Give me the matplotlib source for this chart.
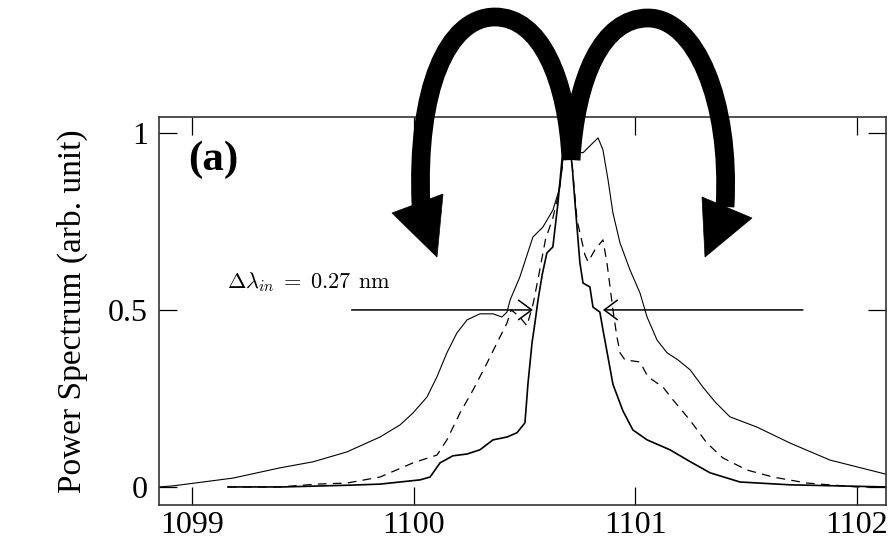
import matplotlib
matplotlib.use("Agg")
import matplotlib.pyplot as plt
from matplotlib.path import Path
from matplotlib.patches import PathPatch, Polygon

FIG_W, FIG_H = 892, 547

# wide spectrum (thin solid line)
wl_wide = [1098.851, 1098.914, 1099.185, 1099.397, 1099.546, 1099.699, 1099.848,
           1099.938, 1099.997, 1100.060, 1100.105, 1100.150, 1100.195, 1100.241,
           1100.299, 1100.358, 1100.398, 1100.421, 1100.435, 1100.479, 1100.538,
           1100.583, 1100.628, 1100.660, 1100.673, 1100.705, 1100.764, 1100.809,
           1100.832, 1100.854, 1100.877, 1100.899, 1100.931, 1100.976, 1101.021,
           1101.053, 1101.098, 1101.143, 1101.192, 1101.247, 1101.305, 1101.360,
           1101.427, 1101.549, 1101.698, 1101.878, 1102.131]
p_wide = [0.000, 0.003, 0.025, 0.054, 0.071, 0.099, 0.141,
          0.175, 0.209, 0.254, 0.311, 0.379, 0.435, 0.472,
          0.489, 0.489, 0.480, 0.494, 0.528, 0.593, 0.706,
          0.734, 0.782, 0.847, 0.924, 0.950, 0.944, 0.972,
          0.986, 0.952, 0.867, 0.774, 0.689, 0.613, 0.548,
          0.480, 0.415, 0.379, 0.359, 0.331, 0.282, 0.240,
          0.198, 0.169, 0.124, 0.076, 0.036]

# intermediate spectrum (dashed)
wl_mid = [1099.162, 1099.397, 1099.564, 1099.699, 1099.848, 1099.997, 1100.105,
          1100.150, 1100.209, 1100.268, 1100.331, 1100.376, 1100.421, 1100.440,
          1100.479, 1100.511, 1100.540, 1100.565, 1100.595, 1100.628, 1100.651,
          1100.682, 1100.705, 1100.737, 1100.773, 1100.787, 1100.818, 1100.854,
          1100.872, 1100.886, 1100.899, 1100.917, 1100.931, 1100.953, 1101.021,
          1101.057, 1101.125, 1101.170, 1101.246, 1101.323, 1101.395, 1101.503,
          1101.621, 1101.774, 1101.999, 1102.131]
p_mid = [0.000, 0.000, 0.008, 0.011, 0.028, 0.068, 0.090,
         0.133, 0.209, 0.274, 0.350, 0.407, 0.463, 0.500,
         0.480, 0.455, 0.520, 0.600, 0.700, 0.760, 0.820,
         0.952, 0.980, 0.754, 0.655, 0.636, 0.670, 0.698,
         0.633, 0.565, 0.500, 0.424, 0.379, 0.359, 0.353,
         0.311, 0.282, 0.246, 0.189, 0.124, 0.082, 0.048,
         0.028, 0.011, 0.000, 0.000]

# narrow spectrum (thicker solid line)
wl_narrow = [1099.162, 1099.410, 1099.713, 1099.848, 1100.029, 1100.074, 1100.119,
             1100.177, 1100.241, 1100.299, 1100.358, 1100.421, 1100.466, 1100.502,
             1100.516, 1100.534, 1100.547, 1100.561, 1100.580, 1100.601, 1100.628,
             1100.651, 1100.669, 1100.696, 1100.714, 1100.728, 1100.750, 1100.764,
             1100.795, 1100.809, 1100.840, 1100.854, 1100.886, 1100.899, 1100.917,
             1100.944, 1100.989, 1101.053, 1101.156, 1101.246, 1101.337, 1101.472,
             1101.698, 1102.131]
p_narrow = [0.000, 0.000, 0.005, 0.008, 0.020, 0.028, 0.068,
            0.088, 0.093, 0.105, 0.133, 0.141, 0.153, 0.181,
            0.294, 0.407, 0.463, 0.528, 0.600, 0.661, 0.678,
            0.802, 0.924, 0.975, 0.915, 0.802, 0.633, 0.576,
            0.565, 0.508, 0.494, 0.444, 0.335, 0.290, 0.260,
            0.215, 0.161, 0.133, 0.105, 0.072, 0.040, 0.014,
            0.006, 0.000]

x_ticks = [1099, 1100, 1101, 1102]
y_ticks = [0, 0.5, 1]
y_tick_labels = ["0", "0.5", "1"]

# half-maximum markers of the narrow line
half_level = 0.5
fwhm_left = 1100.538
fwhm_right = 1100.854
fwhm_text = r"$\Delta\lambda_{in}\;=\;0.27\;\,\mathrm{nm}$"


def fig_xy(px, py):
    return px / FIG_W, 1 - py / FIG_H


def draw_turn_arrow(fig, pts, head):
    verts = [fig_xy(*p) for p in pts]
    codes = [Path.MOVETO] + [Path.CURVE4] * (len(verts) - 1)
    fig.patches.append(PathPatch(Path(verts, codes), transform=fig.transFigure,
                                 fill=False, lw=13.5, edgecolor="black",
                                 capstyle="butt", joinstyle="round", zorder=5))
    fig.patches.append(Polygon([fig_xy(*p) for p in head], closed=True,
                               transform=fig.transFigure, facecolor="black",
                               edgecolor="black", lw=0.5, zorder=5))


def main():
    plt.rcParams["font.family"] = ["Liberation Serif", "DejaVu Serif"]
    plt.rcParams["mathtext.fontset"] = "cm"

    fig = plt.figure(figsize=(FIG_W / 100, FIG_H / 100), dpi=100)
    ax = fig.add_axes([159 / FIG_W, 1 - 505 / FIG_H, (886 - 159) / FIG_W, (505 - 117) / FIG_H])

    ax.plot(wl_wide, p_wide, color="black", lw=0.8)
    ax.plot(wl_mid, p_mid, color="black", lw=0.9, dashes=(7, 5))
    ax.plot(wl_narrow, p_narrow, color="black", lw=1.2)

    ax.set_xlim(1098.851, 1102.131)
    ax.set_ylim(-0.051, 1.045)
    ax.set_xticks(x_ticks)
    ax.set_xticklabels([str(t) for t in x_ticks])
    ax.set_yticks(y_ticks)
    ax.set_yticklabels(y_tick_labels)
    ax.tick_params(direction="in", length=13, width=0.9, top=True, right=True,
                   labelsize=23)
    ax.tick_params(axis="x", pad=4)
    ax.tick_params(axis="y", pad=8)
    for sp in ax.spines.values():
        sp.set_linewidth(1.2)
        sp.set_color("#333333")
    ax.set_ylabel("Power Spectrum (arb. unit)", fontsize=24, labelpad=14)

    ax.text(0.04, 0.889, "(a)", transform=ax.transAxes, fontsize=31,
            fontweight="bold", ha="left", va="center")

    arrow_style = dict(arrowstyle="->,head_length=0.47,head_width=0.35",
                       mutation_scale=20, lw=1.1, color="black",
                       shrinkA=0, shrinkB=0)
    ax.annotate("", xy=(fwhm_left, half_level), xytext=(1099.72, half_level),
                arrowprops=arrow_style)
    ax.annotate("", xy=(fwhm_right, half_level), xytext=(1101.756, half_level),
                arrowprops=arrow_style)
    ax.text(1099.158, 0.562, fwhm_text, fontsize=16, ha="left", va="baseline")

    # the two big turning arrows above the peak
    draw_turn_arrow(fig,
                    [(571, 160), (567, 78), (540, 17), (495, 17),
                     (447, 17), (416, 90), (421, 205)],
                    [(392, 213), (443, 194), (437, 257)])
    draw_turn_arrow(fig,
                    [(571, 160), (576, 78), (602, 18), (648, 18),
                     (695, 18), (731, 100), (725, 207)],
                    [(702, 197), (752, 218), (705, 257)])

    fig.savefig("out.png", dpi=100)


if __name__ == "__main__":
    main()
